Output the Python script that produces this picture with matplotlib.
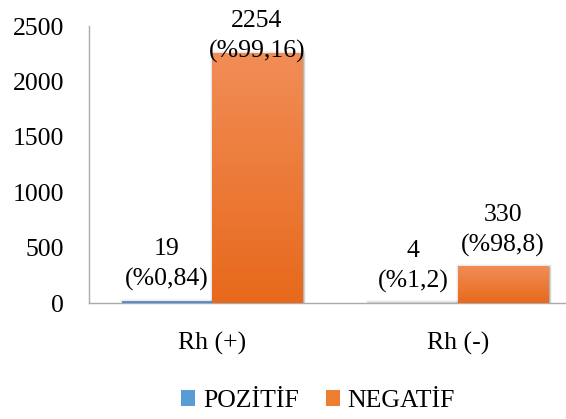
import numpy as np
import matplotlib
matplotlib.use("Agg")
import matplotlib.pyplot as plt
from matplotlib.patches import Patch, Rectangle
from matplotlib.transforms import offset_copy

categories = ["Rh (+)", "Rh (-)"]
series_names = ["POZİTİF", "NEGATİF"]
pozitif = [19, 4]
negatif = [2254, 330]
pozitif_pct = ["%0,84", "%1,2"]
negatif_pct = ["%99,16", "%98,8"]
yticks = [0, 500, 1000, 1500, 2000, 2500]

plt.rcParams["font.family"] = ["Liberation Serif", "DejaVu Serif"]
FS = 18.5

W, H = 566, 419
fig = plt.figure(figsize=(W / 100, H / 100), dpi=100)
# plot area runs slightly past the right edge of the canvas
ax = fig.add_axes([89 / W, 1 - 303 / H, 492 / W, 277 / H])

x = np.arange(len(categories))
w = 0.366
blue_top, blue_bot = "#74A7DC", "#4A86C6"
orange_top, orange_bot = "#F18D56", "#E7691C"


def gradient_bars(xpos, vals, c_top, c_bot):
    bars = ax.bar(xpos, vals, w, color=c_bot, zorder=3)
    ct = np.array(matplotlib.colors.to_rgb(c_top))
    cb = np.array(matplotlib.colors.to_rgb(c_bot))
    t = np.linspace(0, 1, 256)[:, None]
    grad = (ct * (1 - t) + cb * t)[:, None, :]
    for b in bars:
        x0, y0 = b.get_x(), b.get_y()
        x1, y1 = x0 + b.get_width(), y0 + b.get_height()
        # soft drop shadow around each bar
        for k, a in zip((4, 3, 2, 1), (0.04, 0.05, 0.07, 0.09)):
            sh = Rectangle((x0, y0), b.get_width(), b.get_height(),
                           facecolor="black", edgecolor="black", alpha=a,
                           linewidth=k, zorder=2,
                           transform=offset_copy(ax.transData, fig=fig, x=0.5, y=-0.5,
                                                 units="points"))
            ax.add_patch(sh)
        im = ax.imshow(grad, extent=[x0, x1, y0, y1], aspect="auto",
                       origin="upper", zorder=4)
        im.set_clip_path(b)
    return bars


gradient_bars(x - w / 2, pozitif, blue_top, blue_bot)
gradient_bars(x + w / 2, negatif, orange_top, orange_bot)

labels = []
for i in range(len(categories)):
    labels.append(ax.annotate(f"{pozitif[i]}\n({pozitif_pct[i]})", (x[i] - w / 2, pozitif[i]),
                              xytext=(0, 7), textcoords="offset points", ha="center",
                              va="bottom", fontsize=FS, linespacing=1.45, zorder=6))
    labels.append(ax.annotate(f"{negatif[i]}\n({negatif_pct[i]})", (x[i] + w / 2, negatif[i]),
                              xytext=(0, 7), textcoords="offset points", ha="center",
                              va="bottom", fontsize=FS, linespacing=1.45, zorder=6,
                              annotation_clip=False))

ax.set_xlim(-0.5, len(categories) - 0.5)
ax.set_ylim(0, 2500)
ax.set_yticks(yticks)
ax.set_xticks(x)
ax.set_xticklabels(categories)
ax.tick_params(axis="both", length=0, labelsize=FS, colors="black")
ax.tick_params(axis="y", pad=18)
ax.tick_params(axis="x", pad=21)
for s in ["top", "right"]:
    ax.spines[s].set_visible(False)
for s in ["left", "bottom"]:
    ax.spines[s].set_color("#ABABAB")
    ax.spines[s].set_linewidth(1.0)

handles = [Patch(facecolor="#5B9BD5", edgecolor="none"),
           Patch(facecolor="#ED7D31", edgecolor="none")]
fig.legend(handles, series_names, loc="center", bbox_to_anchor=(318 / W, 1 - 401 / H),
           ncol=2, frameon=False, fontsize=FS, handlelength=0.55, handleheight=0.55,
           handletextpad=0.3, columnspacing=1.05, borderpad=0, borderaxespad=0)

# keep data labels inside the canvas: push down any that run off the top
fig.canvas.draw()
renderer = fig.canvas.get_renderer()
for lab in labels:
    bb = lab.get_window_extent(renderer)
    limit = H - 10
    if bb.y1 > limit:
        dy = (bb.y1 - limit) * 72 / fig.dpi
        ox, oy = lab.xyann
        lab.xyann = (ox, oy - dy)

fig.savefig("out.png", dpi=100)
